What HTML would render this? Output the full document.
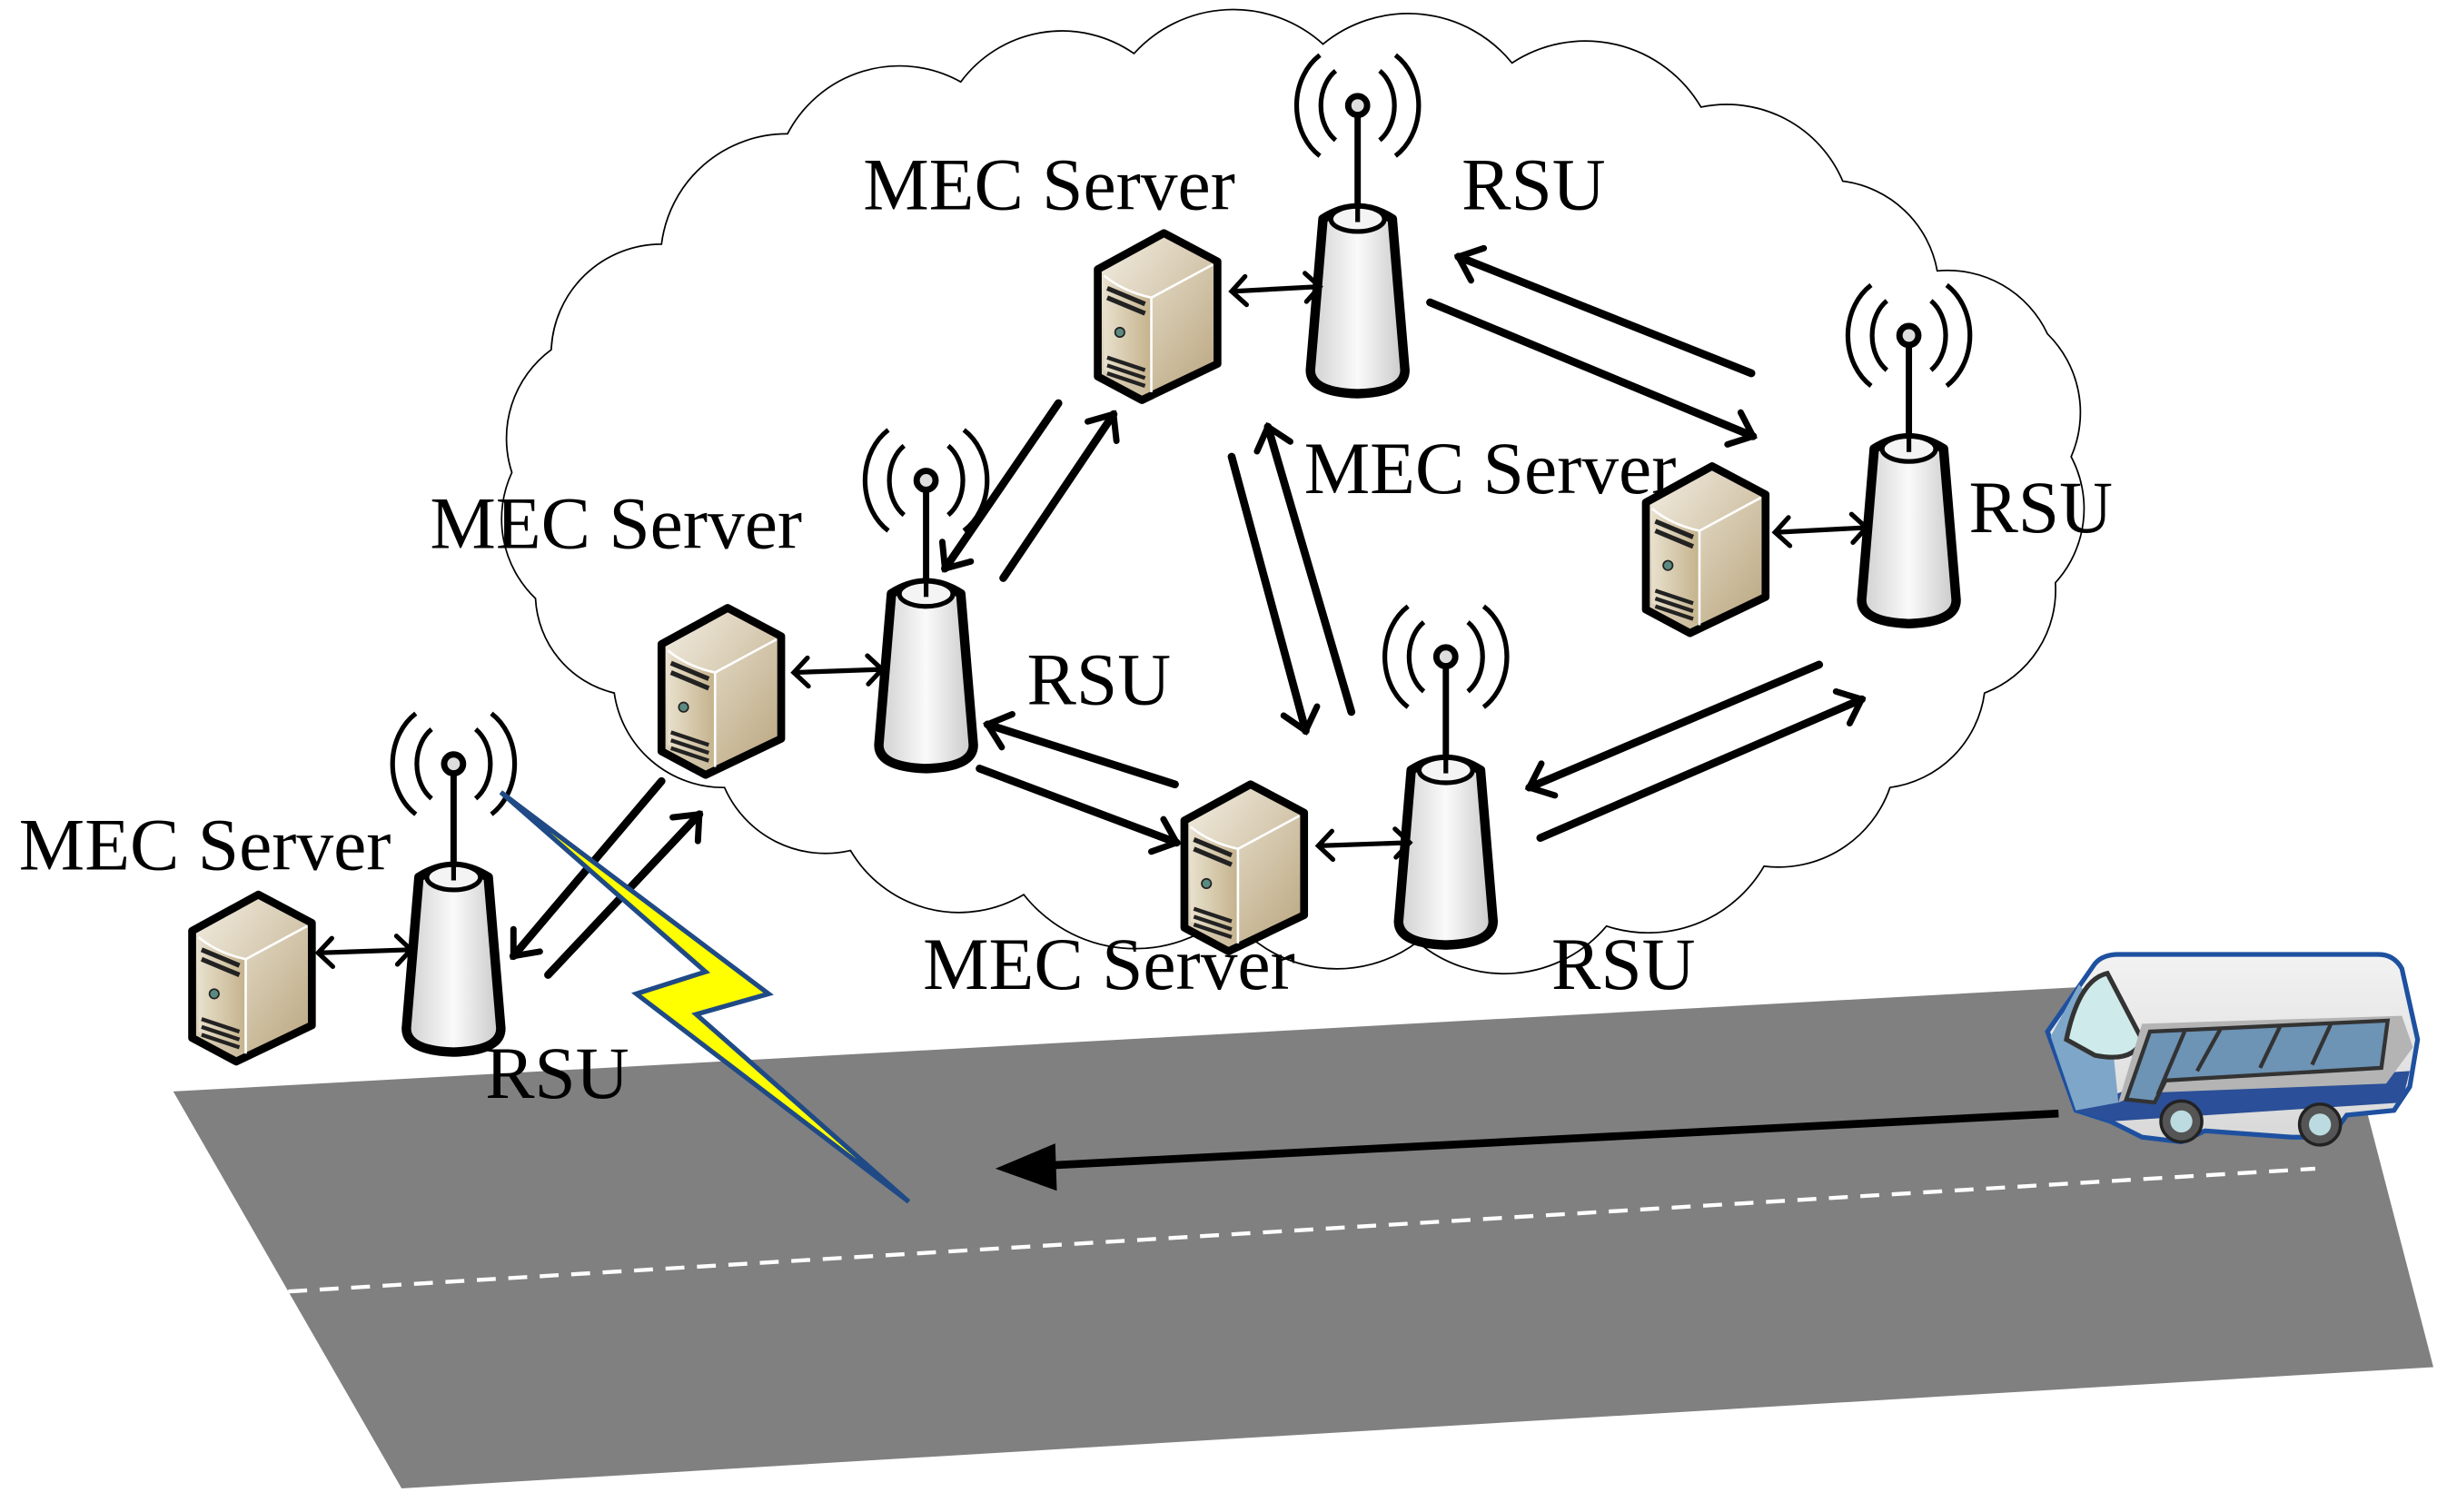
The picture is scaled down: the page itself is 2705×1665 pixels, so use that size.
<!DOCTYPE html>
<html><head><meta charset="utf-8"><style>
html,body{margin:0;padding:0;background:#fff}
svg{display:block}
text{font-family:"Liberation Serif",serif;font-size:47px;fill:#000}
</style></head><body>
<svg width="2705" height="1665" viewBox="0 0 1560 960" preserveAspectRatio="none" xmlns="http://www.w3.org/2000/svg">
<defs>
<marker id="h" markerUnits="userSpaceOnUse" markerWidth="40" markerHeight="40" refX="0" refY="0" viewBox="-20 -20 40 40" orient="auto-start-reverse">
<path d="M-13,-11 L0,0 L-13,11" fill="none" stroke="#000" stroke-width="4" stroke-linecap="round" stroke-linejoin="miter"/>
</marker>
<marker id="hs" markerUnits="userSpaceOnUse" markerWidth="30" markerHeight="30" refX="0" refY="0" viewBox="-15 -15 30 30" orient="auto-start-reverse">
<path d="M-9,-9 L0,0 L-9,9" fill="none" stroke="#000" stroke-width="3" stroke-linecap="round"/>
</marker>
<linearGradient id="tan" x1="0" y1="0" x2="1" y2="1"><stop offset="0" stop-color="#f4efe4"/><stop offset="1" stop-color="#b8a47c"/></linearGradient>
<linearGradient id="tan2" x1="0" y1="0" x2="1" y2="0"><stop offset="0" stop-color="#e8e0cc"/><stop offset="1" stop-color="#c4b28c"/></linearGradient>
<linearGradient id="tw" x1="0" y1="0" x2="1" y2="0"><stop offset="0" stop-color="#cfcfcf"/><stop offset="0.5" stop-color="#fafafa"/><stop offset="1" stop-color="#c8c8c8"/></linearGradient>
<linearGradient id="roof" x1="0" y1="0" x2="0" y2="1"><stop offset="0" stop-color="#f2f2f2"/><stop offset="1" stop-color="#d8d8d8"/></linearGradient>
<g id="srv">
<path d="M2,26 L44,3 L78,21 L78,86 L30,109 L2,94 Z" fill="url(#tan)" stroke="#000" stroke-width="5" stroke-linejoin="round"/>
<path d="M6,30 Q18,40 36,44 L36,104 L6,90 Z" fill="url(#tan2)"/>
<path d="M6,30 Q18,40 36,44 L75,23" fill="none" stroke="#fff" stroke-width="1.5"/>
<line x1="36" y1="44" x2="36" y2="104" stroke="#fff" stroke-width="1.5"/>
<path d="M8,38 L32,48 M8,44 L32,54" stroke="#222" stroke-width="3"/>
<circle cx="16" cy="66" r="3" fill="#5a8a80" stroke="#222" stroke-width="1"/>
<path d="M8,82 L32,90 M8,87 L32,95 M8,92 L32,100" stroke="#222" stroke-width="2.5"/>
</g>
<g id="rsu">
<path d="M-14,-22 A20,26 0 0 0 -14,22 M14,-22 A20,26 0 0 1 14,22" fill="none" stroke="#000" stroke-width="3"/>
<path d="M-24,-32 A32,38 0 0 0 -24,32 M24,-32 A32,38 0 0 1 24,32" fill="none" stroke="#000" stroke-width="3"/>
<line x1="0" y1="0" x2="0" y2="66" stroke="#000" stroke-width="4"/>
<circle cx="0" cy="0" r="6" fill="#ddd" stroke="#000" stroke-width="4"/>
<path d="M-22,72 Q0,58 22,72 L30,168 Q30,182 0,183 Q-30,182 -30,168 Z" fill="url(#tw)" stroke="#000" stroke-width="6" stroke-linejoin="round"/>
<ellipse cx="0" cy="72" rx="17" ry="8" fill="#f4f4f4" stroke="#000" stroke-width="3"/>
<line x1="0" y1="60" x2="0" y2="74" stroke="#000" stroke-width="3"/>
</g>
</defs>

<!-- road -->
<polygon points="110,693 1480,618 1545,868 255,945" fill="#808080"/>
<line x1="183" y1="820" x2="1470" y2="742" stroke="#fff" stroke-width="2.5" stroke-dasharray="12,8"/>

<!-- cloud -->
<path d="M420,155 A80,80 0 0 1 500,85 A80,80 0 0 1 610,52 A80,80 0 0 1 720,34 A85,85 0 0 1 840,28 A85,85 0 0 1 960,40 A85,85 0 0 1 1080,68 A80,80 0 0 1 1170,115 A70,70 0 0 1 1230,172 A70,70 0 0 1 1300,212 A70,70 0 0 1 1315,290 A70,70 0 0 1 1305,370 A70,70 0 0 1 1260,440 A70,70 0 0 1 1200,500 A75,75 0 0 1 1120,550 A85,85 0 0 1 1020,588 A85,85 0 0 1 900,598 A85,85 0 0 1 780,580 A90,90 0 0 1 650,568 A80,80 0 0 1 540,540 A70,70 0 0 1 460,500 A70,70 0 0 1 390,440 A65,65 0 0 1 340,380 A70,70 0 0 1 325,300 A70,70 0 0 1 350,222 A70,70 0 0 1 420,155 Z" fill="#fff" stroke="#000" stroke-width="1"/>

<!-- servers -->
<use href="#srv" x="695" y="145"/>
<use href="#srv" x="418" y="383"/>
<use href="#srv" x="750" y="495"/>
<use href="#srv" x="1043" y="293"/>
<use href="#srv" x="120" y="565"/>
<!-- rsus -->
<use href="#rsu" x="862" y="67"/>
<use href="#rsu" x="588" y="305"/>
<use href="#rsu" x="918" y="417"/>
<use href="#rsu" x="1212" y="213"/>
<use href="#rsu" x="288" y="485"/>

<!-- short double arrows -->
<g stroke="#000" stroke-width="3">
<line x1="782" y1="185" x2="838" y2="182" marker-start="url(#hs)" marker-end="url(#hs)"/>
<line x1="1127" y1="338" x2="1185" y2="335" marker-start="url(#hs)" marker-end="url(#hs)"/>
<line x1="504" y1="427" x2="560" y2="425" marker-start="url(#hs)" marker-end="url(#hs)"/>
<line x1="837" y1="537" x2="895" y2="535" marker-start="url(#hs)" marker-end="url(#hs)"/>
<line x1="202" y1="605" x2="261" y2="603" marker-start="url(#hs)" marker-end="url(#hs)"/>
</g>
<!-- long arrows -->
<g stroke="#000" stroke-width="5" stroke-linecap="round" fill="none">
<line x1="637" y1="367" x2="707" y2="263" marker-end="url(#h)"/>
<line x1="672" y1="256" x2="600" y2="361" marker-end="url(#h)"/>
<line x1="908" y1="192" x2="1113" y2="277" marker-end="url(#h)"/>
<line x1="1112" y1="237" x2="926" y2="163" marker-end="url(#h)"/>
<line x1="782" y1="290" x2="829" y2="464" marker-end="url(#h)"/>
<line x1="858" y1="452" x2="805" y2="271" marker-end="url(#h)"/>
<line x1="746" y1="498" x2="627" y2="460" marker-end="url(#h)"/>
<line x1="622" y1="488" x2="747" y2="535" marker-end="url(#h)"/>
<line x1="978" y1="532" x2="1182" y2="444" marker-end="url(#h)"/>
<line x1="1155" y1="422" x2="971" y2="500" marker-end="url(#h)"/>
<line x1="348" y1="619" x2="444" y2="517" marker-end="url(#h)"/>
<line x1="420" y1="496" x2="326" y2="607" marker-end="url(#h)"/>
</g>

<!-- lightning -->
<polygon points="318,503 448,617 404,631 577,763 442,644 488,631" fill="#ffff00" stroke="#1f4a86" stroke-width="3" stroke-linejoin="miter"/>

<!-- bus arrow -->
<line x1="1307" y1="707" x2="665" y2="740" stroke="#000" stroke-width="5"/>
<polygon points="632,742 670,726 671,756" fill="#000"/>

<!-- bus -->
<g>
<path d="M1300,655 L1330,612 Q1335,606 1345,606 L1510,606 Q1520,606 1525,615 L1535,660 L1530,690 L1520,705 L1490,708 L1480,722 L1455,722 L1400,718 L1385,725 L1360,722 L1340,712 L1318,705 Z" fill="url(#roof)" stroke="#1e50a0" stroke-width="3"/>
<path d="M1318,705 L1340,712 L1525,700 L1530,680 L1350,692 Z" fill="#2b4f98"/>
<path d="M1302,658 L1318,705 L1345,700 L1340,650 L1320,625 Z" fill="#7ea6c8"/>
<path d="M1312,660 Q1320,622 1338,618 L1360,660 Q1355,675 1330,670 Z" fill="#cfeaea" stroke="#333" stroke-width="3"/>
<path d="M1345,700 L1360,650 L1525,645 L1532,665 L1515,688 L1360,694 Z" fill="#b4b4b4"/>
<path d="M1350,698 L1365,655 L1516,648 L1512,678 L1375,686 L1368,700 Z" fill="#6d93b5" stroke="#333" stroke-width="2.5"/>
<path d="M1395,680 L1410,653 M1435,678 L1448,651 M1468,676 L1480,650 M1370,695 L1387,655" stroke="#333" stroke-width="2.5"/>
<circle cx="1385" cy="712" r="13" fill="#555" stroke="#222" stroke-width="2"/>
<circle cx="1385" cy="712" r="7" fill="#bcdbe0"/>
<circle cx="1473" cy="714" r="13" fill="#555" stroke="#222" stroke-width="2"/>
<circle cx="1473" cy="714" r="7" fill="#bcdbe0"/>
</g>

<!-- labels -->
<text x="548" y="133">MEC Server</text>
<text x="928" y="133">RSU</text>
<text x="273" y="348">MEC Server</text>
<text x="652" y="447">RSU</text>
<text x="828" y="313">MEC Server</text>
<text x="1250" y="338">RSU</text>
<text x="586" y="628">MEC Server</text>
<text x="985" y="628">RSU</text>
<text x="12" y="552">MEC Server</text>
<text x="308" y="697">RSU</text>
</svg>
</body></html>
